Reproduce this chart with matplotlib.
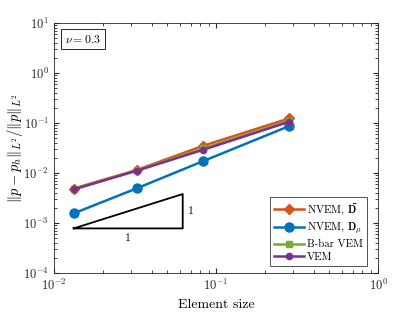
import matplotlib
matplotlib.use("Agg")
import matplotlib.pyplot as plt
import numpy as np

plt.rcParams['font.family'] = 'serif'
plt.rcParams['font.serif'] = ['cmr10', 'DejaVu Serif']
plt.rcParams['mathtext.fontset'] = 'cm'
plt.rcParams['axes.formatter.use_mathtext'] = True

h = [0.01324, 0.0324, 0.0836, 0.283]
err_nvem_dtilde = [4.9e-3, 0.0115, 0.0352, 0.124]
err_nvem_dmu = [1.56e-3, 4.93e-3, 0.0174, 0.087]
err_bbar = [4.8e-3, 0.0113, 0.031, 0.112]
err_vem = [4.7e-3, 0.0111, 0.0293, 0.106]
labels = [r'NVEM, $\widetilde{\mathbf{D}}$', r'NVEM, $\mathbf{D}_\mu$', 'B-bar VEM', 'VEM']
tri_x = [0.01324, 0.0623]
tri_y = [7.8e-4, 3.8e-3]

c_orange = (0.85, 0.325, 0.098)
c_blue = (0.0, 0.447, 0.741)
c_green = (0.466, 0.674, 0.188)
c_purple = (0.494, 0.184, 0.556)

fig = plt.figure(figsize=(4.15, 3.12), dpi=100)
ax = fig.add_axes([0.130, 0.125, 0.781, 0.801])

ax.plot(h, err_nvem_dtilde, '-D', color=c_orange, lw=1.8, ms=5, label=labels[0])
ax.plot(h, err_nvem_dmu, '-o', color=c_blue, lw=1.8, ms=6.5, label=labels[1])
ax.plot(h, err_bbar, '-s', color=c_green, lw=1.8, ms=4.5, label=labels[2])
ax.plot(h, err_vem, '-o', color=c_purple, lw=1.8, ms=4.5, label=labels[3])

# slope triangle
ax.plot([tri_x[0], tri_x[1], tri_x[1], tri_x[0]],
        [tri_y[0], tri_y[0], tri_y[1], tri_y[0]], color='black', lw=1.3)
ax.text(np.sqrt(tri_x[0]*tri_x[1]), tri_y[0]*0.78, '1', ha='center', va='top', fontsize=8.5)
ax.text(tri_x[1]*1.08, np.sqrt(tri_y[0]*tri_y[1]), '1', ha='left', va='center', fontsize=8.5)

ax.set_xscale('log')
ax.set_yscale('log')
ax.set_xlim(1e-2, 1)
ax.set_ylim(1e-4, 10)
ax.set_xticks([1e-2, 1e-1, 1])
ax.set_yticks([1e-4, 1e-3, 1e-2, 1e-1, 1, 10])
ax.tick_params(which='both', direction='in', top=True, right=True, labelsize=9,
               colors=(0.15, 0.15, 0.15))
ax.tick_params(which='major', length=3.5)
ax.tick_params(which='minor', length=2)
for s in ax.spines.values():
    s.set_color((0.15, 0.15, 0.15))
    s.set_linewidth(0.6)

ax.set_xlabel('Element size', fontsize=10)
ax.set_ylabel(r'$\|p-p_h\|_{L^2}/\|p\|_{L^2}$', fontsize=10.5)
ax.yaxis.set_label_coords(-0.088, 0.5)

ax.text(0.035, 0.935, r'$\nu = 0.3$', transform=ax.transAxes, fontsize=8.5,
        va='center', ha='left',
        bbox=dict(boxstyle='square,pad=0.35', fc='white', ec=(0.15, 0.15, 0.15), lw=0.7))

leg = ax.legend(loc='lower right', bbox_to_anchor=(0.966, 0.028), fontsize=7.8,
                frameon=True, fancybox=False,
                edgecolor=(0.15, 0.15, 0.15), handlelength=2.8, borderpad=0.35,
                labelspacing=0.3, handletextpad=0.3, borderaxespad=0.0)
leg.get_frame().set_linewidth(0.7)

fig.savefig('out.png', dpi=100)
